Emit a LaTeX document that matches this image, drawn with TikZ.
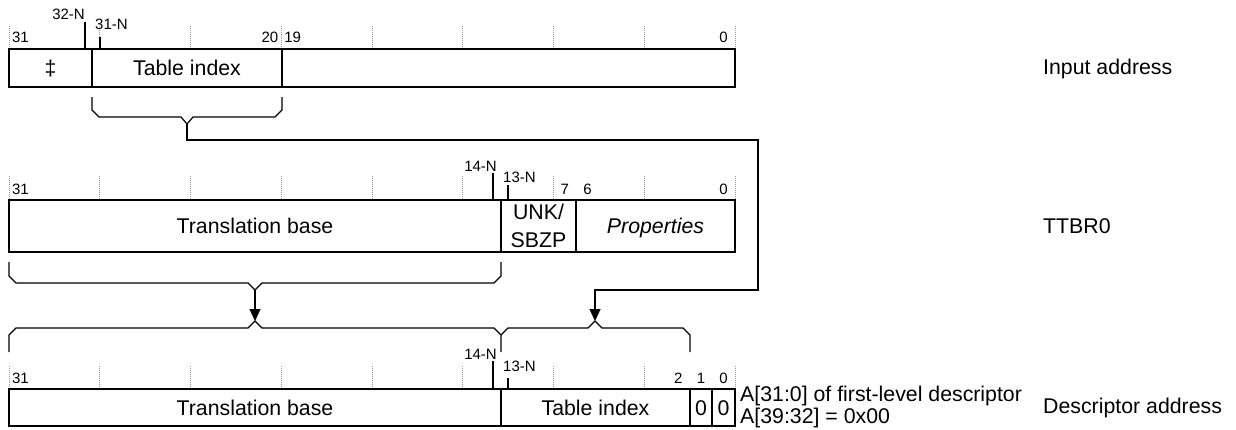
\documentclass[tikz,border=0pt]{standalone}
\usepackage{fontspec}
\setmainfont{Liberation Sans}
\usetikzlibrary{arrows.meta}
\begin{document}
\begin{tikzpicture}[x=1pt,y=-1pt,
  fieldbase/.style={draw=black, line width=1.8pt, inner sep=0pt, outer sep=0pt, anchor=center, font=\fontsize{21.3}{25}\selectfont},
  field/.style={fieldbase, text height=15pt, text depth=0pt},
  bitlbl/.style={font=\fontsize{15}{17}\selectfont, inner sep=0pt, anchor=base},
  nlbl/.style={font=\fontsize{15}{17}\selectfont, inner sep=0pt},
  dtick/.style={draw=gray!80, line width=0.8pt, dash pattern=on 1pt off 1pt},
  ntick/.style={draw=black, line width=1.2pt},
  bracepath/.style={draw=black, line width=1.2pt},
  conn/.style={draw=black, line width=1.2pt},
  arr/.style={conn, -{Triangle[length=12pt,width=11pt]}},
  side/.style={font=\fontsize{21.3}{25}\selectfont, inner sep=0pt, anchor=base west}]
\useasboundingbox (0,0) rectangle (1236,429);

% dotted bit ticks
\foreach \a/\b in {26/48, 176/199, 366/388}
  \foreach \k in {0,...,8}
    \draw[dtick] ({9+90.75*\k},\a) -- ({9+90.75*\k},\b);

% bit numbers
\foreach \b/\y in {31/42, 20/42, 19/42, 0/42, 31/194, 7/194, 6/194, 0/194, 31/383, 2/383, 1/383, 0/383}
  \node[bitlbl] (bit-\b-\y) at ({9+22.6875*(31.5-\b)},\y) {\b};

% ---- Input address ----
\node[field, minimum width=83pt, minimum height=38pt] (ia-x) at (50.5,68) {‡};
\node[field, minimum width=190pt, minimum height=38pt] (ia-ti) at (187,68) {Table index};
\node[field, minimum width=453pt, minimum height=38pt] (ia-lo) at (508.5,68) {};
\draw[ntick] (85,22) -- (85,48);
\node[nlbl, anchor=base east] (ia-n32) at (85,19) {32-N};
\draw[ntick] (100,37) -- (100,48);
\node[nlbl, anchor=base west] (ia-n31) at (95,29) {31-N};
\node[side] (lbl-ia) at (1043,74) {Input address};

% ---- TTBR0 ----
\node[field, minimum width=492pt, minimum height=52pt] (tt-tb) at (255,226) {Translation base};
\node[fieldbase, minimum width=75pt, minimum height=52pt, align=center, font=\fontsize{21.3}{28}\selectfont] (tt-unk) at (538.5,226) {UNK/\\SBZP};
\node[field, minimum width=159pt, minimum height=52pt, font=\fontsize{21.3}{25}\selectfont\itshape] (tt-pr) at (655.5,226) {Properties};
\draw[ntick] (493,173) -- (493,199);
\node[nlbl, anchor=base east] (tt-n14) at (497,171) {14-N};
\draw[ntick] (508,185) -- (508,199);
\node[nlbl, anchor=base west] (tt-n13) at (503,182) {13-N};
\node[side] (lbl-tt) at (1043,233) {TTBR0};

% ---- Descriptor address ----
\node[field, minimum width=492pt, minimum height=37pt] (da-tb) at (255,407.5) {Translation base};
\node[field, minimum width=189pt, minimum height=37pt] (da-ti) at (595.5,407.5) {Table index};
\node[field, minimum width=22pt, minimum height=37pt] (da-b1) at (701,407.5) {0};
\node[field, minimum width=23pt, minimum height=37pt] (da-b0) at (723.5,407.5) {0};
\draw[ntick] (493,361) -- (493,388);
\node[nlbl, anchor=base east] (da-n14) at (497,359) {14-N};
\draw[ntick] (508,378) -- (508,388);
\node[nlbl, anchor=base west] (da-n13) at (503,371) {13-N};
\node[side] (lbl-a1) at (740,401) {A[31:0] of first-level descriptor};
\node[side] (lbl-a2) at (740,423) {A[39:32] = 0x00};
\node[side] (lbl-da) at (1043,413) {Descriptor address};

% ---- braces ----
\coordinate (b1tip) at (187,124);
\draw[bracepath] (92,97) -- (92,110) -- (99,117) -- (181,117) -- (b1tip) -- (193,117) -- (275,117) -- (282,110) -- (282,97);
\coordinate (b2tip) at (255,290);
\draw[bracepath] (9,262) -- (9,276) -- (16,283) -- (248,283) -- (b2tip) -- (262,283) -- (494,283) -- (501,276) -- (501,262);
\coordinate (b3tip) at (255,321);
\draw[bracepath] (9,352) -- (9,335) -- (16,328) -- (248,328) -- (b3tip) -- (262,328) -- (494,328) -- (501,335) -- (501,352);
\coordinate (b4tip) at (595,321);
\draw[bracepath] (501,335) -- (508,328) -- (588,328) -- (b4tip) -- (602,328) -- (683,328) -- (690,335) -- (690,352);

% ---- connectors ----
\draw[arr] (b1tip) -- (187,140) -- (758,140) -- (758,290) -- (595,290) -- (b4tip);
\draw[arr] (b2tip) -- (b3tip);
\end{tikzpicture}
\end{document}
